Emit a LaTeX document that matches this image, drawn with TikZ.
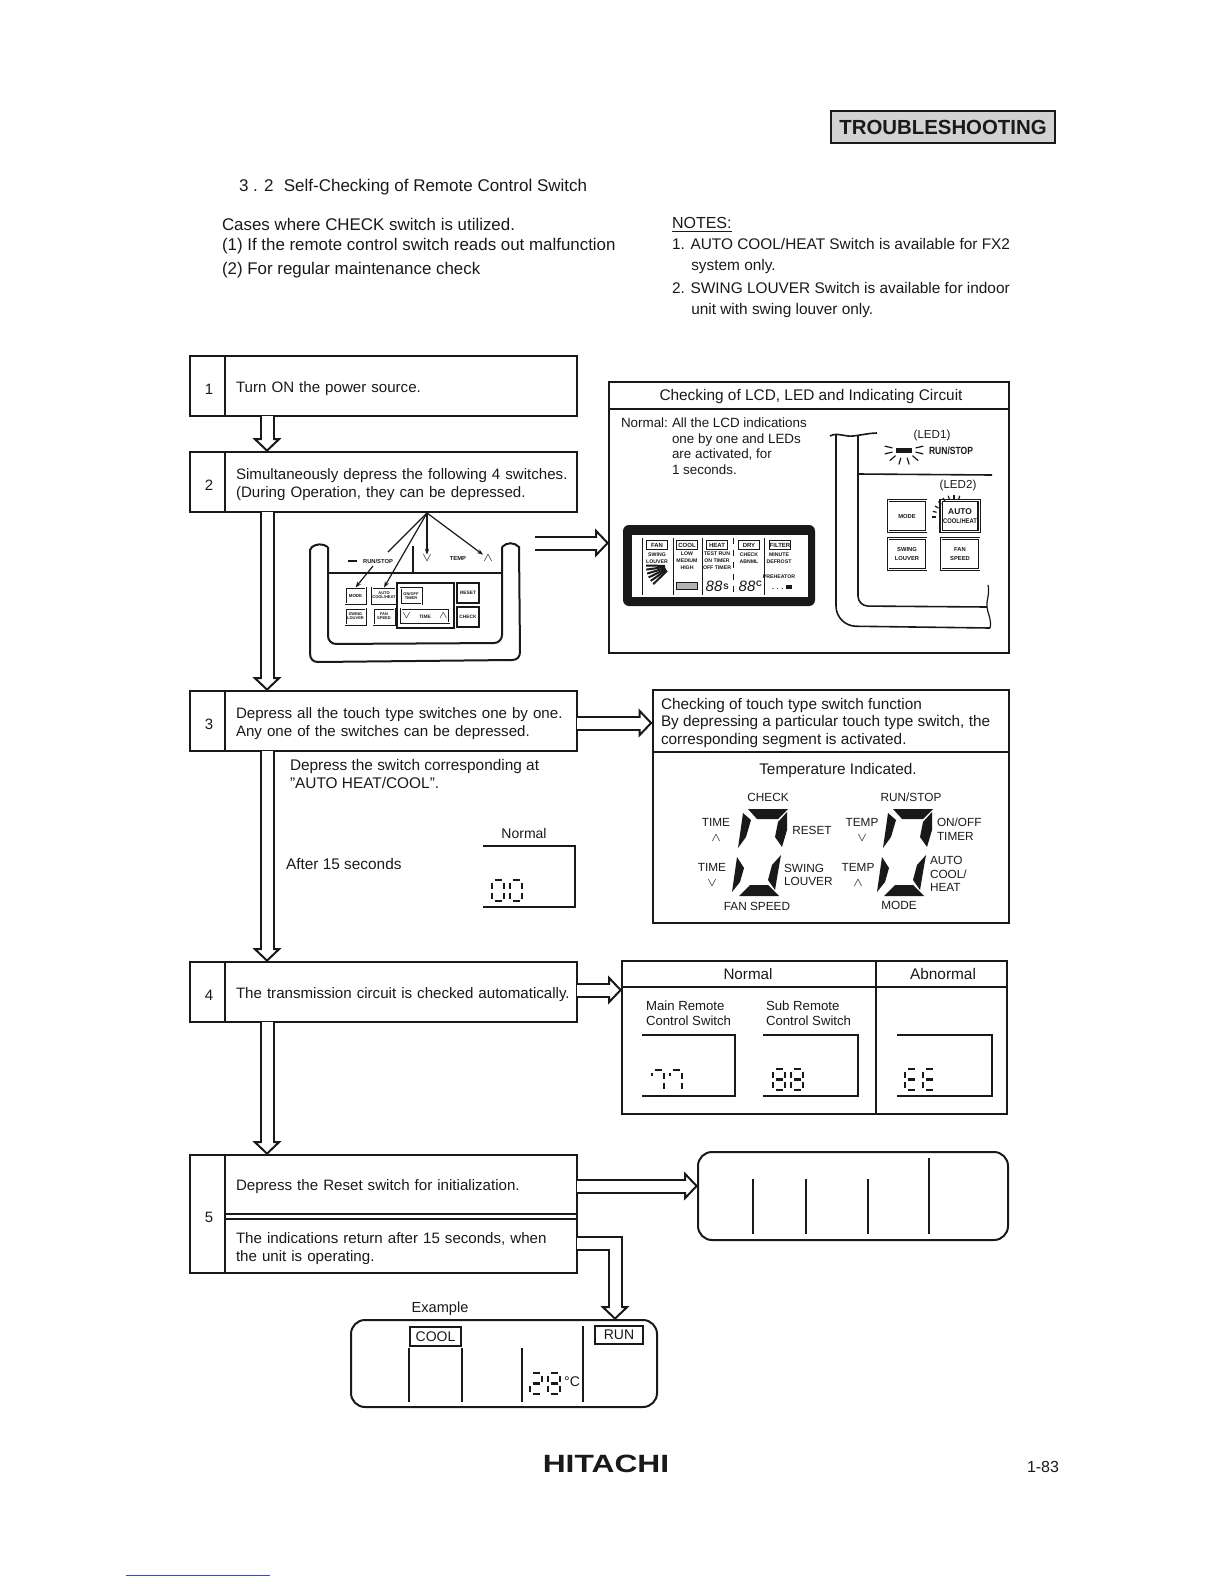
\documentclass[tikz,border=0pt]{standalone}
\usepackage{fontspec}
\setmainfont{Liberation Sans}
\usetikzlibrary{arrows.meta, positioning, calc}
\definecolor{InkBlack}{RGB}{25,25,25}
\definecolor{LinkBlue}{RGB}{60,70,200}
\newcommand{\fsize}[1]{\fontsize{#1}{#1}\selectfont}
% seven segment pieces, x1/y1/x2/y2 in a 12 x 21 cell
\newcommand{\digitZero}{2.5/0/9.5/0, 12/2.5/12/8.5, 12/12.5/12/18.5, 2.5/21/9.5/21, 0/12.5/0/18.5, 0/2.5/0/8.5}
\newcommand{\digitEight}{2.5/0/9.5/0, 12/2.5/12/8.5, 12/12.5/12/18.5, 2.5/21/9.5/21, 0/12.5/0/18.5, 0/2.5/0/8.5, 2.5/10.5/9.5/10.5}
\newcommand{\digitSeven}{0/2.5/0/6, 2.5/0/9.5/0, 12/2.5/12/8.5, 12/12.5/12/18.5}
\newcommand{\digitTwo}{2.5/0/9.5/0, 12/2.5/12/8.5, 2.5/10.5/9.5/10.5, 0/12.5/0/18.5, 2.5/21/9.5/21}
\newcommand{\digitE}{2.5/0/9.5/0, 0/2.5/0/8.5, 2.5/10.5/9.5/10.5, 0/12.5/0/18.5, 2.5/21/9.5/21}
\newcommand{\lcddigit}[3]{\foreach \p/\q/\r/\s in #3 {\draw[segline] (#1+\p,#2+\q) -- (#1+\r,#2+\s);}}

\begin{document}
\begin{tikzpicture}[
  x=0.5pt, y=-0.5pt,
  color=InkBlack,
  every node/.style = {inner sep=0pt, outer sep=0pt},
  txt/.style = {anchor=west, align=left, font=\fsize{7.7}},
  ctr/.style = {anchor=center, align=center, font=\fsize{7}},
  lab/.style = {anchor=center, align=center, font=\fsize{5.9}},
  numbox/.style = {
    rectangle, draw, line width=1pt,
    minimum width=17.5pt, minimum height=30pt,
    text height=8.2pt, font=\fsize{7.5},
    execute at begin node={\hspace{1.5pt}}
  },
  stepbox/.style = {
    rectangle, draw, line width=1pt,
    minimum width=176pt, minimum height=30pt,
    text width=165pt, align=left,
    font=\fsize{7.55},
    execute at begin node={\rule{0pt}{8pt}}
  },
  frame/.style = {line width=1pt},
  thinline/.style = {line width=0.6pt},
  segline/.style = {line width=1.1pt},
  segfill/.style = {fill=InkBlack, draw=none},
  btn/.style = {
    rectangle, draw, double, double distance=0.5pt, line width=0.35pt,
    font=\fsize{2.9}\bfseries, align=center, fill=white
  },
  lcdtag/.style = {
    rectangle, draw, line width=0.5pt, fill=white,
    minimum width=10.5pt, minimum height=4.5pt,
    font=\fsize{3}\bfseries
  },
  lcdlab/.style = {anchor=center, align=center, font=\fsize{2.6}\bfseries},
  hollow/.style = {
    double=white, double distance=5.5pt, line width=1pt,
    -{Triangle[open, fill=white, line width=1pt, length=7pt, width=14.5pt]},
    postaction={draw=white, double=none, line width=5.5pt, -, shorten >=5.5pt, shorten <=1pt}
  }
]
\useasboundingbox (0,0) rectangle (1224,1584);

% Page head
\node[rectangle, draw, line width=1pt, minimum width=112pt, minimum height=15.5pt,
  fill=gray!35, font=\fsize{10.2}\bfseries] (banner) at (943,127) {TROUBLESHOOTING};
\node[txt, font=\fsize{8.5}] (title) at (239,187) {3 . 2\hspace{0.6em}Self-Checking of Remote Control Switch};
\node[txt, font=\fsize{8.45}, align=left] (cases) at (222,248)
  {Cases where CHECK switch is utilized.\\[1.6pt](1) If the remote control switch reads out malfunction\\[3.2pt](2) For regular maintenance check};
\node[txt, font=\fsize{8}] (notes) at (672,225) {\underline{NOTES:}};
\node[txt, font=\fsize{7.7}] (note1) at (672,256) {1. AUTO COOL/HEAT Switch is available for FX2\\[3.2pt]\hspace{1.25em}system only.};
\node[txt, font=\fsize{7.7}] (note2) at (672,300) {2. SWING LOUVER Switch is available for indoor\\[3.2pt]\hspace{1.25em}unit with swing louver only.};

% Steps
\node[numbox] (num1) at (207.5,386) {1};
\node[stepbox, right=0pt of num1] (step1) {Turn ON the power source.};
\node[numbox] (num2) at (207.5,482) {2};
\node[stepbox, right=0pt of num2] (step2) {\mbox{Simultaneously depress the following 4 switches.}\\[1.6pt](During Operation, they can be depressed.};
\node[numbox] (num3) at (207.5,721) {3};
\node[stepbox, right=0pt of num3] (step3) {Depress all the touch type switches one by one.\\[1.4pt]Any one of the switches can be depressed.};
\node[numbox] (num4) at (207.5,992) {4};
\node[stepbox, right=0pt of num4] (step4) {\mbox{The transmission circuit is checked automatically.}};
\node[numbox, minimum height=59pt] (num5) at (207.5,1214) {5};
\node[stepbox, minimum height=29.5pt, anchor=north west] (step5a) at (num5.north east) {Depress the Reset switch for initialization.};
\node[stepbox, minimum height=27pt, anchor=south west] (step5b) at (num5.south east) {The indications return after 15 seconds, when\\[1.6pt]the unit is operating.};
\draw[frame] (step5a.south east) -- (step5b.north east);

% Flow between the steps
\coordinate (stem) at (267,0);
\draw[hollow] (step1.south -| stem) -- (step2.north -| stem);
\draw[hollow] (step2.south -| stem) -- (step3.north -| stem);
\draw[hollow] (step3.south -| stem) -- (step4.north -| stem);
\draw[hollow] (step4.south -| stem) -- (step5a.north -| stem);

% LCD panel
\node[rectangle, draw, line width=1pt, minimum width=200pt, minimum height=135.5pt] (lcdpanel) at (809,517.5) {};
\draw[frame] (lcdpanel.west |- 0,409) -- (lcdpanel.east |- 0,409);
\node[ctr, font=\fsize{7.7}] (lcdhead) at (811,397) {Checking of LCD, LED and Indicating Circuit};
\node[txt, font=\fsize{6.7}, anchor=north west] (lcdnorm) at (621,418) {Normal:};
\node[txt, font=\fsize{6.7}, anchor=north west] (lcdnote) at (672,418) {All the LCD indications\\[1.1pt]one by one and LEDs\\[1.1pt]are activated, for\\[1.1pt]1 seconds.};
\coordinate (lcdin) at (535,543);
\draw[hollow] (lcdin) -- (lcdin -| lcdpanel.west);

% LCD with black surround
\fill[InkBlack, rounded corners=3pt] (623,606) -- (623,525) -- (815,525) -- (815,606) -- cycle;
\fill[white] (632,535) rectangle (808,597);
\foreach \x/\t [count=\i] in {657/FAN, 687/COOL, 717/HEAT, 749/DRY, 780/FILTER}
  \node[lcdtag] (tag\i) at (\x,545) {\t};
\foreach \x in {642,673,702,764}
  \draw[line width=0.5pt] (\x,538) -- (\x,595);
\draw[line width=0.5pt, dashed] (733,538) -- (733,595);
\node[lcdlab] (lcdswing) at (657,558) {SWING\\[1pt]LOUVER};
\node[lcdlab] (lcdfan) at (687,561) {LOW\\[1pt]MEDIUM\\[1pt]HIGH};
\node[lcdlab] (lcdrun) at (717,561) {TEST RUN\\[1pt]ON TIMER\\[1pt]OFF TIMER};
\node[lcdlab] (lcdchk) at (749,558) {CHECK\\[1pt]ABNML};
\node[lcdlab] (lcdmin) at (779,558) {MINUTE\\[1pt]DEFROST};
\node[lcdlab] (lcdpre) at (779,577) {PREHEATOR};
\node[lcdlab, font=\fsize{3.5}\bfseries] (lcdlvl) at (782,587) {. . . \rule{3pt}{2pt}};
\node[lcdtag, fill=gray!60, minimum height=3.5pt] (lcdbar) at (687,586) {};
\node[lcdlab, font=\fsize{7.5}\itshape] (lcdtime) at (714,586) {88};
\node[lcdlab, font=\fsize{4}\bfseries] (lcds) at (726,587) {S};
\node[lcdlab, font=\fsize{7.5}\itshape] (lcdtemp) at (747,586) {88};
\node[lcdlab, font=\fsize{4}\bfseries] (lcdc) at (759,584) {C};
\foreach \a in {136,145,...,181}
  \draw[line width=1pt, shift={(672,566)}] (\a:7) -- (\a:26);

% Remote with the two LEDs
\draw[thinline, line width=0.8pt] (830,436) .. controls (837,432) and (845,437) .. (853,436) .. controls (862,435) and (870,433) .. (877,433);
\draw[thinline, line width=0.8pt, rounded corners=10pt] (836,434) -- (836,626) -- (990,628);
\draw[thinline, line width=0.8pt, rounded corners=5pt] (858,436) -- (858,606) -- (987,607);
\draw[thinline] (988,585) .. controls (990,595) and (986,600) .. (987,607) .. controls (988,615) and (992,620) .. (990,628);
\draw[thinline, line width=0.8pt] (858,474) -- (992,475);
\node[lab, font=\fsize{5.8}] (ledone) at (932,435) {(LED1)};
\node[lab, font=\fsize{5.2}\bfseries] (runstop) at (951,451) {\scalebox{0.82}[1]{RUN/STOP}};
\fill (896,448) rectangle (912,453);
\foreach \a in {-15,15,45,...,195}
  \draw[thinline] ([shift={(\a:12 and 8)}]904,450) -- ([shift={(\a:20 and 15)}]904,450);
\node[lab, font=\fsize{5.8}] (ledtwo) at (958,485) {(LED2)};
\node[btn, minimum width=19pt, minimum height=15.5pt] (mode) at (907,516) {MODE};
\node[btn, minimum width=19pt, minimum height=15.5pt, line width=0.6pt, font=\fsize{3.4}\bfseries] (auto) at (960,516) {\fsize{4.2}AUTO\\[1pt]\scalebox{0.85}[1]{COOL/HEAT}};
\node[btn, minimum width=19pt, minimum height=15.5pt] (swing) at (907,554) {SWING\\[1.5pt]LOUVER};
\node[btn, minimum width=19pt, minimum height=15.5pt] (fanspeed) at (960,554) {FAN\\[1.5pt]SPEED};
\foreach \a in {180,195,...,285}
  \draw[thinline] ([shift={(\a:18)}]954,517) -- ([shift={(\a:22)}]954,517);

% Remote control
\draw[frame] (328,547) .. controls (322,543) and (316,544) .. (312,547) -- (310,550) -- (310,653)
  .. controls (310,659) and (313,662) .. (318,662) -- (512,660) .. controls (517,660) and (520,657) .. (520,652)
  -- (519,547) .. controls (514,542) and (507,542) .. (502,547);
\draw[frame, rounded corners=4pt] (328,547) -- (328,644) -- (502,643) -- (502,547);
\draw[thinline, line width=0.8pt] (328,573) -- (502,573);
\draw[thinline, line width=0.8pt] (413,546) -- (413,573);
\fill (348,560) rectangle (357,562);
\node[lab, font=\fsize{2.9}\bfseries] (rcrun) at (378,561) {RUN/STOP};
\node[lab, font=\fsize{6.5}] (rcdown) at (427,558) {$\vee$};
\node[lab, font=\fsize{2.9}\bfseries] (rctemp) at (458,558) {TEMP};
\node[lab, font=\fsize{6.5}] (rcup) at (488,558) {$\wedge$};
\node[rectangle, draw, thinline, minimum width=28.5pt, minimum height=22.5pt] (rcpanel) at (425.5,605.5) {};
\node[btn, minimum width=10pt, minimum height=8pt, double distance=0.2pt, line width=0.4pt, font=\fsize{2.2}\bfseries] (rcmode) at (355.5,595.5) {MODE};
\node[btn, minimum width=10.5pt, minimum height=8pt, double distance=0.2pt, line width=0.4pt, font=\fsize{2}\bfseries] (rcauto) at (384,595.5) {AUTO\\COOL/HEAT};
\node[btn, minimum width=10pt, minimum height=8pt, double distance=0.2pt, line width=0.4pt, font=\fsize{2}\bfseries] (rcswing) at (355.5,616.5) {SWING\\LOUVER};
\node[btn, minimum width=10.5pt, minimum height=8pt, double distance=0.2pt, line width=0.4pt, font=\fsize{2}\bfseries] (rcfan) at (384,616.5) {FAN\\SPEED};
\node[btn, minimum width=10.5pt, minimum height=8pt, double distance=0.2pt, line width=0.4pt, font=\fsize{2}\bfseries] (rcsleep) at (411,596) {ON/OFF\\TIMER};
\node[btn, minimum width=24pt, minimum height=7pt, double distance=0.2pt, line width=0.4pt, font=\fsize{2.4}\bfseries] (rctime) at (425,615.5) {$\vee$\hspace{4pt}TIME\hspace{4pt}$\wedge$};
\node[rectangle, draw, thinline, minimum width=11pt, minimum height=10pt, font=\fsize{2.4}\bfseries] (rcreset) at (468,593) {RESET};
\node[rectangle, draw, thinline, minimum width=11pt, minimum height=10pt, font=\fsize{2.4}\bfseries] (rccheck) at (468,617) {CHECK};
\coordinate (press) at (427,513);
\coordinate (pressgap) at (388,552);
\draw[thinline] (press) -- (pressgap);
\draw[thinline, -{Stealth[length=3pt]}] (373,566) -- (rcmode.north);
\draw[thinline, -{Stealth[length=3pt]}] (press) -- (rcauto.north);
\draw[thinline, -{Stealth[length=3pt]}] (press) -- (rcdown.north);
\draw[thinline, -{Stealth[length=3pt]}] (press) -- (rcup.north west);

% Touch switch check
\node[rectangle, draw, line width=1pt, minimum width=178pt, minimum height=116.5pt] (touch) at (830.5,806.5) {};
\draw[frame] (touch.west |- 0,752) -- (touch.east |- 0,752);
\node[txt, font=\fsize{7.67}] (touchtxt) at (661,723) {Checking of touch type switch function\\[1pt]By depressing a particular touch type switch, the\\[1pt]corresponding segment is activated.};
\draw[hollow] (step3.east |- 0,723) -- (touch.west |- 0,723);
\node[ctr, font=\fsize{7.7}] (tempind) at (838,771) {Temperature Indicated.};
\foreach \dx in {0,145} {
  \fill[segfill, shift={(\dx,0)}] (748,809) -- (788,809) -- (778,819) -- (757,819) -- cycle;
  \fill[segfill, shift={(\dx,0)}] (743,813) -- (751,820) -- (746,837) -- (738,848) -- cycle;
  \fill[segfill, shift={(\dx,0)}] (787,812) -- (787,830) -- (782,847) -- (775,837) -- (778,822) -- cycle;
  \fill[segfill, shift={(\dx,0)}] (737,857) -- (744,868) -- (740,882) -- (732,892) -- cycle;
  \fill[segfill, shift={(\dx,0)}] (781,855) -- (778,872) -- (775,890) -- (768,880) -- (772,865) -- cycle;
  \fill[segfill, shift={(\dx,0)}] (750,885) -- (768,885) -- (779,896) -- (739,896) -- cycle;
}
\node[lab] (lblcheck) at (768,797) {CHECK};
\node[lab] (lbltimeup) at (716,830) {TIME\\[2pt]$\wedge$};
\node[lab] (lblreset) at (812,830) {RESET};
\node[lab] (lbltimedn) at (712,875) {TIME\\[2pt]$\vee$};
\node[lab, anchor=west, align=left] (lblswing) at (784,875) {SWING\\[1pt]LOUVER};
\node[lab] (lblfan) at (757,906) {FAN SPEED};
\node[lab] (lblrun) at (911,797) {RUN/STOP};
\node[lab] (lbltempdn) at (862,830) {TEMP\\[2pt]$\vee$};
\node[lab, anchor=west, align=left] (lblonoff) at (937,829) {ON/OFF\\[1pt]TIMER};
\node[lab] (lbltempup) at (858,875) {TEMP\\[2pt]$\wedge$};
\node[lab, anchor=west, align=left] (lblauto) at (930,874) {AUTO\\[0.8pt]COOL/\\[0.8pt]HEAT};
\node[lab] (lblmode) at (899,905) {MODE};

% Under step 3
\node[txt] (depress) at (290,774) {Depress the switch corresponding at\\[1.2pt]"AUTO HEAT/COOL".};
\node[txt] (after) at (286,864) {After 15 seconds};
\node[ctr] (normal) at (524,833) {Normal};
\draw[frame] (483,846) -- (575,846) -- (575,907) -- (483,907);
\lcddigit{492}{880}{\digitZero}
\lcddigit{510}{880}{\digitZero}

% Transmission result table
\node[rectangle, draw, line width=1pt, minimum width=192.5pt, minimum height=76.5pt] (result) at (814.5,1037.5) {};
\draw[frame] (result.west |- 0,987) -- (result.east |- 0,987);
\draw[frame] (876,961) -- (876,1114);
\node[ctr, font=\fsize{7.6}] (resnormal) at (748,974) {Normal};
\node[ctr, font=\fsize{7.7}] (resabn) at (943,974) {Abnormal};
\node[txt, font=\fsize{6.6}] (resmain) at (646,1013) {Main Remote\\[1pt]Control Switch};
\node[txt, font=\fsize{6.6}] (ressub) at (766,1013) {Sub Remote\\[1pt]Control Switch};
\draw[hollow] (step4.east |- 0,990) -- (result.west |- 0,990);
\draw[frame] (642,1035) -- (735,1035) -- (735,1096) -- (642,1096);
\draw[frame] (763,1035) -- (858,1035) -- (858,1096) -- (763,1096);
\draw[frame] (897,1035) -- (992,1035) -- (992,1096) -- (897,1096);
\lcddigit{652}{1070}{\digitSeven}
\lcddigit{670}{1070}{\digitSeven}
\lcddigit{773}{1069}{\digitEight}
\lcddigit{791}{1069}{\digitEight}
\lcddigit{905}{1069}{\digitE}
\lcddigit{923}{1069}{\digitE}

% Display after reset
\node[rectangle, draw, line width=1pt, rounded corners=7pt, minimum width=155pt, minimum height=44pt] (blank) at (853,1196) {};
\draw[hollow] (step5a.east |- 0,1186) -- (blank.west |- 0,1186);
\foreach \x in {753,806,868}
  \draw[thinline] (\x,1179) -- (\x,1234);
\draw[thinline] (929,1158) -- (929,1234);

% Example display
\node[ctr, font=\fsize{7.3}] (example) at (440,1309) {Example};
\node[rectangle, draw, line width=1pt, rounded corners=7pt, minimum width=153pt, minimum height=43.5pt] (sample) at (504,1363.5) {};
\draw[hollow] (step5b.east |- 0,1243) -| (sample.north -| 615,0);
\node[rectangle, draw, line width=0.8pt, minimum width=25.5pt, minimum height=9.5pt, font=\fsize{7}] (cool) at (435.5,1336.5) {COOL};
\node[rectangle, draw, line width=0.8pt, minimum width=24pt, minimum height=9pt, font=\fsize{7}] (run) at (619,1335) {RUN};
\foreach \x in {409,462,522}
  \draw[thinline] (\x,1348) -- (\x,1402);
\draw[thinline] (583,1326) -- (583,1402);
\lcddigit{530}{1373}{\digitTwo}
\lcddigit{548}{1373}{\digitEight}
\node[lab, font=\fsize{7}] (degc) at (572,1382) {°C};

% Foot
\node[ctr, font=\fsize{12.5}\bfseries] (brand) at (606,1464) {\scalebox{1.27}[1]{HITACHI}};
\node[ctr, font=\fsize{8}] (pageno) at (1043,1467) {1-83};
\coordinate (footl) at (126,1575);
\coordinate (footr) at (270,1575);
\draw[LinkBlue, line width=0.5pt] (footl) -- (footr);
\end{tikzpicture}
\end{document}
